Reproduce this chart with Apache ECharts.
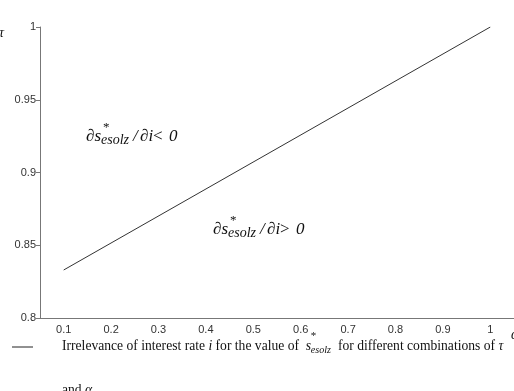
<!DOCTYPE html>
<html>
<head>
<meta charset="utf-8">
<script src="https://cdn.jsdelivr.net/npm/echarts@6/dist/echarts.min.js"></script>
<style>
  html, body { margin: 0; padding: 0; background: #fff; }
  #chart { width: 514px; height: 391px; }
</style>
</head>
<body>
<div id="chart"></div>
<script>
  // x categories (alpha) and y ticks
  var alphaLabels = ['0.1', '0.2', '0.3', '0.4', '0.5', '0.6', '0.7', '0.8', '0.9', '1'];
  var yTicks = [0.8, 0.85, 0.9, 0.95, 1];
  // straight boundary line: [category index, tau]
  var boundaryLine = [[0, 0.833], [9, 1.0]];

  var serif = '"Liberation Serif", "DejaVu Serif", serif';
  var sans = '"Liberation Sans", Arial, sans-serif';

  var ctx = document.createElement('canvas').getContext('2d');
  function measure(s, size, italic) {
    ctx.font = (italic ? 'italic ' : '') + size + 'px ' + serif;
    return ctx.measureText(s).width;
  }

  function txt(x, y, s, size, italic) {
    return {
      type: 'text', left: x, top: y,
      style: {
        text: s, fontFamily: serif, fontSize: size,
        fontStyle: italic ? 'italic' : 'normal', fill: '#111'
      }
    };
  }

  // the partial derivative label, drawn from pieces
  function derivLabel(x, y, sign) {
    return [
      txt(x, y, '\u2202s', 17, true),
      txt(x + 17, y - 7, '*', 13, false),
      txt(x + 15, y + 5, 'esolz', 14, true),
      txt(x + 47, y, '/', 17, true),
      txt(x + 54, y, '\u2202i', 17, true),
      txt(x + 67, y, sign, 17, false),
      txt(x + 83, y, '0', 17, true)
    ];
  }

  // caption line: pieces flowed left to right with measured widths
  function caption(x, y) {
    var size = 13.6;
    var parts = [
      ['Irrelevance of interest rate ', false],
      ['i', true],
      [' for the value of  ', false],
      ['S', true],
      ['  for different combinations of ', false],
      ['\u03c4', true]
    ];
    var out = [];
    var cx = x;
    parts.forEach(function (p) {
      if (p[0] === 'S') {
        out.push(txt(cx, y, 's', size, true));
        out.push(txt(cx + 5, y - 8, '*', 11, false));
        out.push(txt(cx + 5, y + 6, 'esolz', 10, true));
        cx += measure('s', size, true) + measure('esolz', 10, true);
      } else {
        out.push(txt(cx, y, p[0], size, p[1]));
        cx += measure(p[0], size, p[1]);
      }
    });
    return out;
  }

  var chart = echarts.init(document.getElementById('chart'));

  var option = {
    animation: false,
    grid: { left: 40, right: -1, top: 27, bottom: 73 },
    xAxis: {
      type: 'category',
      data: alphaLabels,
      boundaryGap: true,
      axisLine: { lineStyle: { color: '#777' } },
      axisTick: { length: 4, lineStyle: { color: '#777' } },
      axisLabel: { color: '#333', fontSize: 11, fontFamily: sans, margin: 6 }
    },
    yAxis: {
      type: 'value',
      min: yTicks[0],
      max: yTicks[yTicks.length - 1],
      interval: 0.05,
      splitLine: { show: false },
      axisLine: { show: true, lineStyle: { color: '#777' } },
      axisTick: { show: true, length: 4, lineStyle: { color: '#777' } },
      axisLabel: { color: '#333', fontSize: 11, fontFamily: sans, margin: 4 }
    },
    series: [{
      type: 'line',
      data: boundaryLine,
      symbol: 'none',
      lineStyle: { color: '#333', width: 1 }
    }],
    graphic: [].concat(
      derivLabel(86, 128, '<'),
      derivLabel(213, 221, '>'),
      caption(62, 339),
      [
        txt(-1, 26, '\u03c4', 14, true),
        txt(511, 328, '\u03b1', 14, true),
        { type: 'line', shape: { x1: 12, y1: 347, x2: 33, y2: 347 }, style: { stroke: '#222', lineWidth: 1 } },
        txt(62, 383, 'and ', 13.6, false),
        txt(62 + measure('and ', 13.6, false), 383, '\u03b1', 13.6, true)
      ]
    )
  };

  chart.setOption(option);
</script>
</body>
</html>
